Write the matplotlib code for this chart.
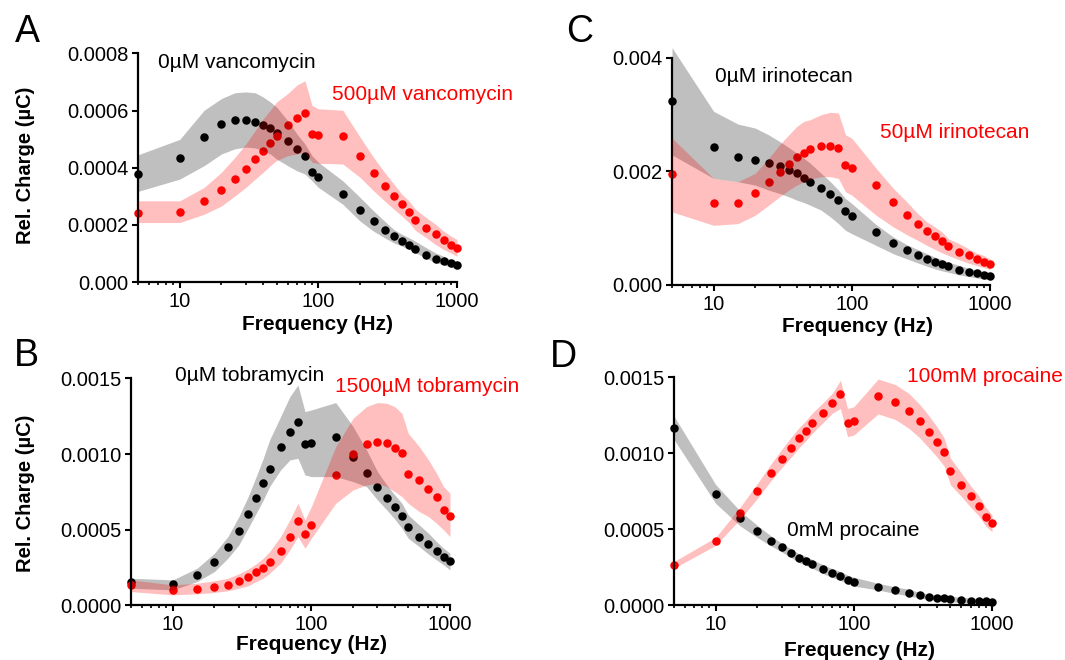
import matplotlib
matplotlib.use("Agg")
import matplotlib.pyplot as plt
import numpy as np
from matplotlib.ticker import LogLocator, NullFormatter

# stimulation frequencies (Hz), same for every panel
freq = [5, 10, 15, 20, 25, 30, 35, 40, 45, 50, 60, 70, 80, 90, 100,
        150, 200, 250, 300, 350, 400, 450, 500, 600, 700, 800, 900, 1000]

# all charge values below are in units of 1e-4 uC
# A - vancomycin
vanco_0 = [3.78, 4.34, 5.07, 5.52, 5.68, 5.68, 5.61, 5.51, 5.38, 5.22, 4.94, 4.66, 4.40, 3.85, 3.66,
           3.07, 2.51, 2.12, 1.83, 1.61, 1.43, 1.28, 1.15, 0.96, 0.82, 0.73, 0.65, 0.59]
vanco_0_hi = [4.45, 4.99, 6.01, 6.42, 6.62, 6.65, 6.62, 6.47, 6.30, 6.12, 5.65, 5.18, 4.83, 4.42, 4.19,
              3.54, 2.96, 2.49, 2.13, 1.84, 1.67, 1.55, 1.43, 1.20, 1.02, 0.90, 0.79, 0.73]
vanco_0_lo = [3.17, 3.60, 4.07, 4.48, 4.66, 4.72, 4.69, 4.60, 4.48, 4.30, 4.07, 3.89, 3.78, 3.54, 3.31,
              2.72, 2.13, 1.78, 1.55, 1.37, 1.26, 1.14, 1.02, 0.84, 0.67, 0.61, 0.52, 0.43]
vanco_500 = [2.43, 2.46, 2.83, 3.23, 3.62, 3.96, 4.31, 4.60, 4.87, 5.10, 5.50, 5.75, 5.91, 5.17, 5.13,
             5.10, 4.40, 3.80, 3.35, 3.01, 2.72, 2.46, 2.16, 1.88, 1.67, 1.47, 1.31, 1.20]
vanco_500_hi = [2.84, 2.84, 3.31, 3.84, 4.36, 4.83, 5.30, 5.71, 6.01, 6.30, 6.59, 6.89, 7.04, 6.18, 6.06,
                6.01, 5.07, 4.36, 3.84, 3.43, 3.07, 2.84, 2.55, 2.25, 2.02, 1.78, 1.61, 1.49]
vanco_500_lo = [2.08, 2.08, 2.37, 2.66, 3.01, 3.31, 3.60, 3.84, 4.07, 4.25, 4.42, 4.48, 4.54, 4.19, 4.15,
                4.13, 3.66, 3.19, 2.84, 2.55, 2.31, 2.08, 1.81, 1.55, 1.31, 1.14, 1.02, 0.90]

# B - tobramycin
tobra_0 = [1.52, 1.41, 2.02, 2.88, 3.85, 4.95, 6.05, 7.13, 8.09, 9.04, 10.49, 11.48, 12.14, 10.65, 10.76,
           11.15, 9.83, 8.73, 7.81, 7.13, 6.49, 5.94, 5.17, 4.55, 4.05, 3.63, 3.23, 2.97]
tobra_0_hi = [1.80, 1.69, 2.46, 3.45, 4.55, 5.87, 7.19, 8.51, 9.72, 10.93, 12.47, 13.79, 14.56, 12.80, 12.91,
              13.40, 11.81, 10.27, 8.84, 7.96, 7.30, 6.75, 5.98, 5.32, 4.77, 4.22, 3.78, 3.45]
tobra_0_lo = [1.14, 1.03, 1.58, 2.24, 3.12, 4.00, 5.10, 6.09, 6.97, 7.85, 8.95, 9.61, 9.72, 8.62, 8.51,
              8.51, 8.18, 7.85, 6.97, 6.31, 5.70, 5.10, 4.44, 3.89, 3.39, 3.01, 2.68, 2.35]
tobra_1500 = [1.36, 0.99, 1.08, 1.21, 1.36, 1.63, 1.85, 2.18, 2.46, 2.84, 3.61, 4.55, 5.59, 4.71, 5.32,
              8.62, 9.99, 10.65, 10.78, 10.71, 10.43, 10.10, 8.67, 8.29, 7.70, 7.19, 6.31, 5.92]
tobra_1500_hi = [1.69, 1.36, 1.47, 1.63, 1.80, 2.09, 2.40, 2.75, 3.12, 3.56, 4.55, 5.65, 6.75, 5.65, 6.53,
                 10.49, 12.36, 13.13, 13.40, 13.35, 13.13, 12.69, 11.37, 10.49, 9.61, 8.73, 7.85, 7.41]
tobra_1500_lo = [0.92, 0.70, 0.77, 0.86, 0.97, 1.14, 1.30, 1.58, 1.80, 2.13, 2.79, 3.67, 4.55, 3.78, 4.44,
                 6.75, 7.63, 7.96, 8.07, 7.85, 7.52, 7.19, 6.75, 6.20, 5.87, 5.43, 4.99, 4.55]

# C - irinotecan
irino_0 = [32.45, 24.37, 22.60, 22.00, 21.53, 20.94, 20.24, 19.76, 18.88, 18.17, 17.11, 15.93, 14.87, 12.98, 12.15,
           9.32, 7.37, 6.08, 5.31, 4.60, 4.13, 3.72, 3.30, 2.71, 2.36, 2.12, 1.83, 1.65]
irino_0_hi = [41.77, 30.56, 28.32, 27.61, 26.43, 25.25, 24.19, 23.19, 22.30, 21.42, 19.65, 18.17, 16.70, 15.22, 14.34,
              10.62, 8.44, 7.08, 6.25, 5.49, 4.90, 4.48, 4.01, 3.42, 2.95, 2.66, 2.36, 2.24]
irino_0_lo = [22.89, 18.76, 18.17, 17.58, 16.70, 16.11, 15.52, 14.93, 14.51, 14.04, 13.16, 11.98, 10.80, 9.62, 9.03,
              6.96, 5.49, 4.60, 3.89, 3.30, 2.83, 2.48, 2.24, 1.77, 1.48, 1.24, 1.06, 0.94]
irino_50 = [19.47, 14.40, 14.51, 16.17, 18.17, 19.94, 21.36, 22.60, 23.19, 23.95, 24.54, 24.49, 24.19, 21.12, 20.53,
            17.58, 14.63, 12.39, 10.80, 9.44, 8.56, 7.73, 6.79, 5.78, 5.19, 4.54, 4.13, 3.72]
irino_50_hi = [25.84, 18.76, 18.17, 19.65, 22.30, 24.66, 26.43, 27.91, 28.79, 29.09, 29.97, 30.39, 30.27, 26.43, 25.84,
               20.53, 16.99, 14.63, 12.57, 11.09, 10.21, 9.32, 8.14, 7.26, 6.37, 5.61, 5.19, 4.60]
irino_50_lo = [12.86, 10.50, 10.80, 12.27, 14.04, 15.52, 16.70, 17.58, 18.17, 18.64, 19.06, 19.06, 18.76, 16.40, 15.81,
               12.27, 10.21, 8.85, 7.85, 6.96, 6.25, 5.66, 5.19, 4.43, 3.84, 3.42, 3.07, 2.71]

# D - procaine (mean and sem)
proc_0 = [11.67, 7.32, 5.71, 4.85, 4.24, 3.79, 3.42, 3.09, 2.91, 2.71, 2.36, 2.10, 1.92, 1.68, 1.54,
          1.21, 0.97, 0.82, 0.64, 0.55, 0.49, 0.44, 0.40, 0.33, 0.29, 0.26, 0.24, 0.22]
proc_0_sem = [0.77, 0.62, 0.49, 0.40, 0.33, 0.29, 0.29, 0.29, 0.29, 0.29, 0.29, 0.29, 0.29, 0.29, 0.29,
              0.22, 0.22, 0.22, 0.18, 0.18, 0.18, 0.18, 0.18, 0.18, 0.18, 0.18, 0.18, 0.18]
proc_100 = [2.65, 4.19, 6.04, 7.50, 8.71, 9.64, 10.37, 11.01, 11.49, 11.98, 12.68, 13.30, 13.88, 12.02, 12.13,
            13.74, 13.37, 12.79, 12.11, 11.40, 10.74, 10.08, 8.80, 7.92, 7.15, 6.55, 5.82, 5.38]
proc_100_sem = [0.22, 0.26, 0.40, 0.49, 0.55, 0.60, 0.66, 0.66, 0.66, 0.66, 0.66, 0.66, 0.93, 0.93, 0.93,
                1.15, 1.15, 1.15, 1.10, 1.06, 0.99, 0.93, 0.88, 0.77, 0.71, 0.66, 0.62, 0.55]

FONT = "Liberation Sans"
W, H = 1065, 660


def fxy(x, y):
    """pixel position -> figure fraction"""
    return x / W, 1 - y / H


def draw_panel(ax, ctrl, ctrl_lo, ctrl_hi, drug, drug_lo, drug_hi, yticks, ylabels):
    f = np.array(freq)
    s = 1e-4
    # points first, translucent bands on top (Prism style)
    ax.plot(f, np.array(ctrl) * s, "o", color="black", ms=6.1, mec="none", clip_on=False, zorder=2)
    ax.plot(f, np.array(drug) * s, "o", color="red", ms=6.1, mec="none", clip_on=False, zorder=2)
    ax.fill_between(f, np.array(ctrl_lo) * s, np.array(ctrl_hi) * s, color="black", alpha=0.25,
                    lw=0, clip_on=False, zorder=3)
    ax.fill_between(f, np.array(drug_lo) * s, np.array(drug_hi) * s, color="red", alpha=0.25,
                    lw=0, clip_on=False, zorder=4)

    ax.set_xscale("log")
    ax.set_xlim(5, 1000)
    ax.set_ylim(yticks[0], yticks[-1])
    ax.set_xticks([10, 100, 1000])
    ax.set_xticklabels(["10", "100", "1000"])
    ax.xaxis.set_minor_locator(LogLocator(base=10, subs=range(2, 10)))
    ax.xaxis.set_minor_formatter(NullFormatter())
    ax.set_yticks(yticks)
    ax.set_yticklabels(ylabels)

    for side in ["top", "right"]:
        ax.spines[side].set_visible(False)
    for side in ["left", "bottom"]:
        ax.spines[side].set_linewidth(1.6)
    ax.tick_params(which="major", direction="out", length=4, width=1.5, labelsize=14.5, pad=3)
    ax.tick_params(axis="x", which="minor", direction="out", length=2.2, width=1.2)
    for lab in ax.get_xticklabels() + ax.get_yticklabels():
        lab.set_fontfamily(FONT)


def main():
    plt.rcParams["font.family"] = [FONT, "DejaVu Sans"]
    fig = plt.figure(figsize=(10.65, 6.6), dpi=100)

    ax_a = fig.add_axes([0.1296, 0.5727, 0.2995, 0.3465])
    ax_b = fig.add_axes([0.1230, 0.0826, 0.2995, 0.3442])
    ax_c = fig.add_axes([0.6310, 0.5682, 0.2986, 0.3444])
    ax_d = fig.add_axes([0.6329, 0.0833, 0.2986, 0.3450])

    draw_panel(ax_a, vanco_0, vanco_0_lo, vanco_0_hi, vanco_500, vanco_500_lo, vanco_500_hi,
               [0, 0.0002, 0.0004, 0.0006, 0.0008], ["0.000", "0.0002", "0.0004", "0.0006", "0.0008"])
    draw_panel(ax_b, tobra_0, tobra_0_lo, tobra_0_hi, tobra_1500, tobra_1500_lo, tobra_1500_hi,
               [0, 0.0005, 0.0010, 0.0015], ["0.0000", "0.0005", "0.0010", "0.0015"])
    draw_panel(ax_c, irino_0, irino_0_lo, irino_0_hi, irino_50, irino_50_lo, irino_50_hi,
               [0, 0.002, 0.004], ["0.000", "0.002", "0.004"])
    p0, e0 = np.array(proc_0), np.array(proc_0_sem)
    p1, e1 = np.array(proc_100), np.array(proc_100_sem)
    draw_panel(ax_d, proc_0, p0 - e0, p0 + e0, proc_100, p1 - e1, p1 + e1,
               [0, 0.0005, 0.0010, 0.0015], ["0.0000", "0.0005", "0.0010", "0.0015"])

    # panel letters
    for letter, (x, y) in zip("ABCD", [(27, 32), (26, 356), (580, 32), (563, 357)]):
        fig.text(*fxy(x, y), letter, fontsize=27, ha="center", va="center")

    # axis titles
    for x, y in [(317, 325), (312, 645), (858, 326), (860, 650)]:
        fig.text(*fxy(x, y), "Frequency (Hz)", fontsize=15, fontweight="bold", ha="center", va="center")
    for y in [165, 493]:
        fig.text(*fxy(26, y), "Rel. Charge (µC)", fontsize=14.5, fontweight="bold",
                 rotation=90, ha="center", va="center")

    # condition labels
    notes = [
        (158, 63, "0µM vancomycin", "black"),
        (332, 95, "500µM vancomycin", "red"),
        (175, 375, "0µM tobramycin", "black"),
        (335, 387, "1500µM tobramycin", "red"),
        (715, 77, "0µM irinotecan", "black"),
        (880, 132, "50µM irinotecan", "red"),
        (907, 377, "100mM procaine", "red"),
        (787, 531, "0mM procaine", "black"),
    ]
    for x, y, txt, col in notes:
        fig.text(*fxy(x, y), txt, fontsize=15, color=col, ha="left", va="center")

    fig.savefig("out.png", dpi=100)


if __name__ == "__main__":
    main()
